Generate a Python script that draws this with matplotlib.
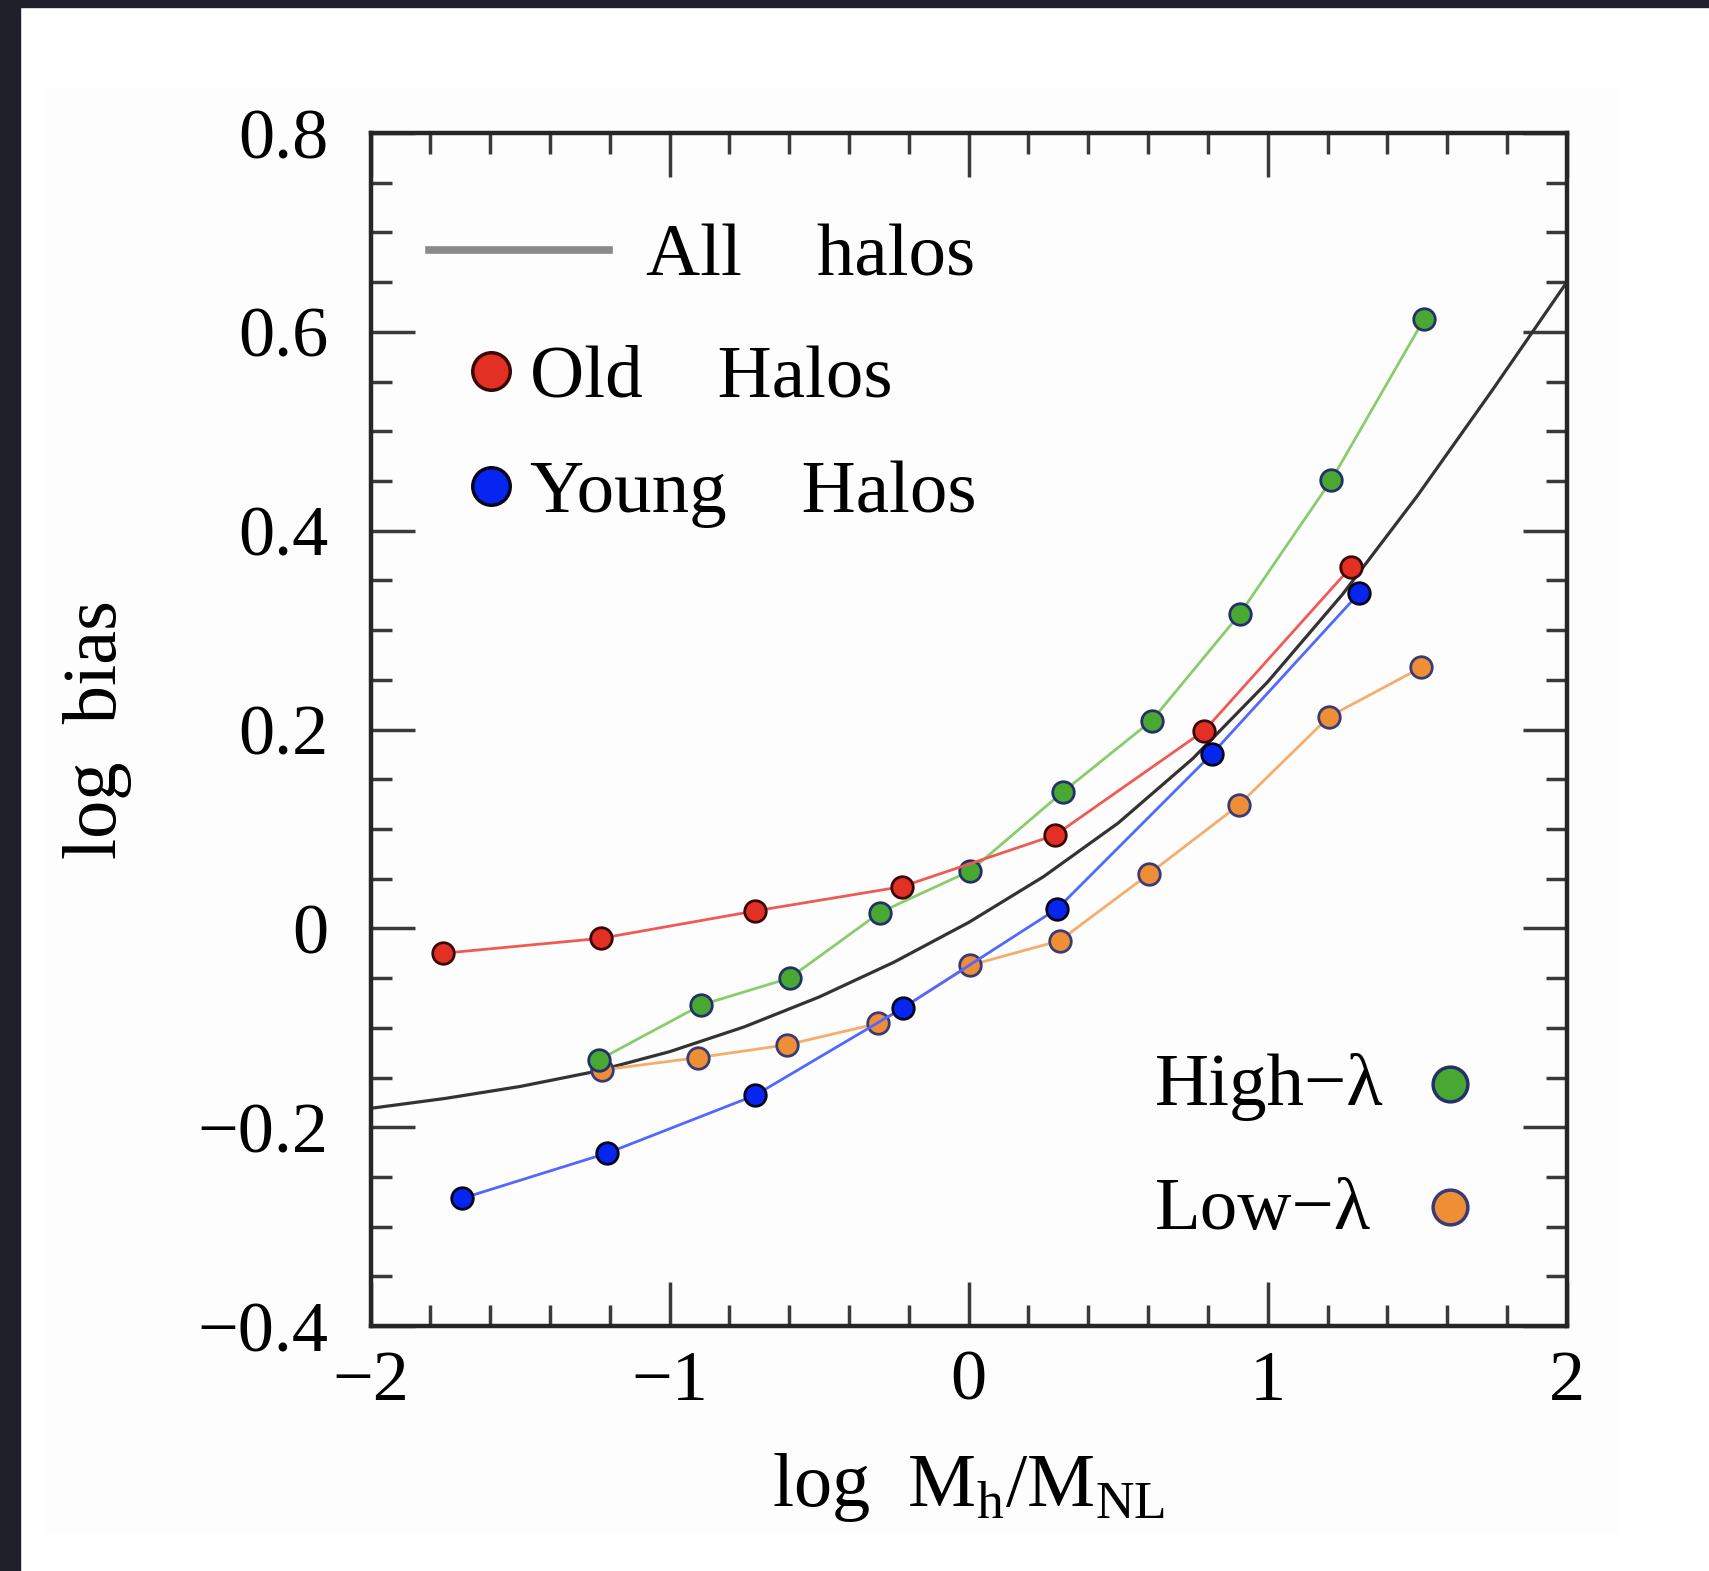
import matplotlib
matplotlib.use("Agg")
import matplotlib.pyplot as plt
from matplotlib.lines import Line2D
from matplotlib.patches import Rectangle
from matplotlib.ticker import MultipleLocator

plt.rcParams['font.family'] = ['Liberation Serif', 'DejaVu Serif']
plt.rcParams['mathtext.fontset'] = 'custom'
plt.rcParams['mathtext.rm'] = 'Liberation Serif'

# all halos (smooth curve)
all_x = [-2.0, -1.75, -1.5, -1.25, -1.0, -0.75, -0.5, -0.25, 0.0,
         0.25, 0.5, 0.75, 1.0, 1.25, 1.5, 1.75, 2.0]
all_y = [-0.181, -0.171, -0.159, -0.144, -0.124, -0.099, -0.069, -0.034, 0.006,
         0.052, 0.106, 0.171, 0.248, 0.336, 0.435, 0.541, 0.650]

# old / young halos
old_x = [-1.757, -1.230, -0.715, -0.223, 0.290, 0.788, 1.280]
old_y = [-0.025, -0.010, 0.0175, 0.042, 0.094, 0.199, 0.364]
young_x = [-1.693, -1.208, -0.715, -0.220, 0.297, 0.812, 1.305]
young_y = [-0.2715, -0.226, -0.168, -0.080, 0.020, 0.175, 0.337]

# high / low spin
high_x = [-1.235, -0.894, -0.599, -0.297, 0.006, 0.314, 0.612, 0.906, 1.213, 1.523]
high_y = [-0.132, -0.077, -0.050, 0.016, 0.058, 0.137, 0.209, 0.316, 0.451, 0.613]
low_x = [-1.227, -0.906, -0.606, -0.302, 0.006, 0.304, 0.602, 0.903, 1.205, 1.514]
low_y = [-0.1425, -0.130, -0.117, -0.0955, -0.037, -0.0124, 0.0546, 0.124, 0.213, 0.2625]

xticks = [-2, -1, 0, 1, 2]
xtick_labels = ['\u22122', '\u22121', '0', '1', '2']
yticks = [-0.4, -0.2, 0.0, 0.2, 0.4, 0.6, 0.8]
ytick_labels = ['\u22120.4', '\u22120.2', '0', '0.2', '0.4', '0.6', '0.8']

RED, RED_LINE, RED_EDGE = '#e33024', '#f05a55', '#3a0808'
BLUE, BLUE_LINE, BLUE_EDGE = '#0625f0', '#5068ff', '#05051c'
GREEN, GREEN_LINE, GREEN_EDGE = '#48a832', '#88cc6c', '#23306a'
ORANGE, ORANGE_LINE, ORANGE_EDGE = '#ee8f35', '#f4ae6c', '#3a3a78'

fig = plt.figure(figsize=(17.09, 15.71), dpi=100, facecolor='white')

# dark frame strips and faint panel behind the plot
fig.add_artist(Rectangle((45 / 1709, 1 - 1533 / 1571), (1616 - 45) / 1709, (1533 - 88) / 1571,
                         transform=fig.transFigure, color='#fdfdfd', zorder=-2))
fig.add_artist(Rectangle((0, 0), 20 / 1709, 1, transform=fig.transFigure,
                         color='#20202b', zorder=-1))
fig.add_artist(Rectangle((0, 1 - 7 / 1571), 1, 7 / 1571, transform=fig.transFigure,
                         color='#20202b', zorder=-1))

ax = fig.add_axes([0.2168, 0.1559, 0.7000, 0.7594])
ax.set_facecolor('none')

ax.plot(all_x, all_y, color='#333333', lw=2.3, zorder=2)


def _series(x, y, line, face, edge):
    ax.plot(x, y, color=line, lw=2.0, marker='o', ms=15.5,
            mfc=face, mec=edge, mew=2.0, zorder=3)


_series(low_x, low_y, ORANGE_LINE, ORANGE, ORANGE_EDGE)
_series(high_x, high_y, GREEN_LINE, GREEN, GREEN_EDGE)
_series(young_x, young_y, BLUE_LINE, BLUE, BLUE_EDGE)
_series(old_x, old_y, RED_LINE, RED, RED_EDGE)

ax.set_xlim(-2, 2)
ax.set_ylim(-0.4, 0.8)
ax.set_xticks(xticks)
ax.set_xticklabels(xtick_labels)
ax.set_yticks(yticks)
ax.set_yticklabels(ytick_labels)
ax.xaxis.set_minor_locator(MultipleLocator(0.2))
ax.yaxis.set_minor_locator(MultipleLocator(0.05))

ax.tick_params(which='both', direction='in', top=True, right=True,
               color='#3a3a3a', width=2.5)
ax.tick_params(which='major', length=32, labelsize=52)
ax.tick_params(which='minor', length=15)
ax.tick_params(axis='x', which='major', pad=17)
ax.tick_params(axis='y', which='major', pad=30)
for sp in ax.spines.values():
    sp.set_linewidth(3.2)
    sp.set_color('#262626')

ax.set_xlabel('log  M$_\\mathrm{h}$/M$_\\mathrm{NL}$', fontsize=55, va='center')
ax.xaxis.set_label_coords(0.5, -0.135)
ax.set_ylabel('log  bias', fontsize=55, va='center')
ax.yaxis.set_label_coords(-0.228, 0.5)

# legends
leg_all = ax.legend([Line2D([], [], color='#8a8a8a', lw=5.5)], ['All    halos'],
                    loc='center left', bbox_to_anchor=(0.0488, 0.8955),
                    frameon=False, fontsize=54, handlelength=2.4,
                    handletextpad=0.5, borderpad=0, borderaxespad=0)
ax.add_artist(leg_all)

age_handles = [Line2D([], [], ls='none', marker='o', ms=27, mfc=RED, mec=RED_EDGE, mew=2.5),
               Line2D([], [], ls='none', marker='o', ms=27, mfc=BLUE, mec=BLUE_EDGE, mew=2.5)]
leg_age = ax.legend(age_handles, ['Old    Halos', 'Young    Halos'],
                    loc='center left', bbox_to_anchor=(0.0853, 0.746),
                    frameon=False, fontsize=54, handlelength=0.5,
                    handletextpad=0.26, labelspacing=0.62,
                    borderpad=0, borderaxespad=0)
ax.add_artist(leg_age)

# spin labels: text left-aligned, markers in a column to the right
spin_handles = [Line2D([], [], ls='none', marker='o', ms=25, mfc=GREEN, mec=GREEN_EDGE, mew=2.5),
                Line2D([], [], ls='none', marker='o', ms=25, mfc=ORANGE, mec=ORANGE_EDGE, mew=2.5)]
ax.legend(spin_handles, ['', ''],
          loc='center', bbox_to_anchor=(0.902, 0.1445), markerfirst=False,
          frameon=False, fontsize=54, handlelength=0.5,
          handletextpad=0.0, labelspacing=0.72,
          borderpad=0, borderaxespad=0)
ax.text(0.6556, 0.185, 'High\u2212\u03bb', transform=ax.transAxes,
        fontsize=54, ha='left', va='baseline')
ax.text(0.6556, 0.081, 'Low\u2212\u03bb', transform=ax.transAxes,
        fontsize=54, ha='left', va='baseline')

fig.savefig('out.png', dpi=100)
